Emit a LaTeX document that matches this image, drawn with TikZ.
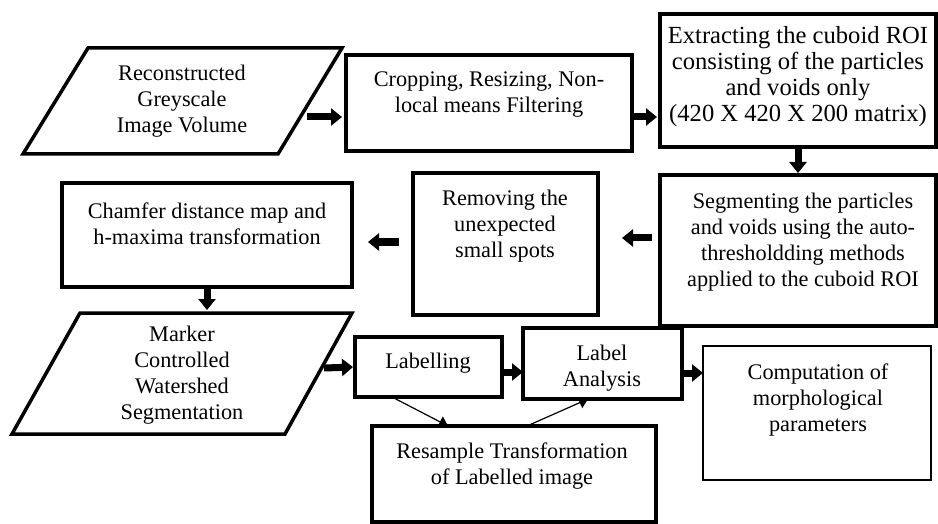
\documentclass[tikz,border=0pt]{standalone}
\usepackage{fontspec}
\setmainfont{Liberation Serif}
\usetikzlibrary{arrows.meta}
\begin{document}
\begin{tikzpicture}[x=1pt,y=-1pt,
  box/.style={draw, line width=3.5pt, inner sep=0pt, outer sep=0pt, anchor=north west},
  txt/.style={align=center, inner sep=0pt, font=\fontsize{22.3pt}{26pt}\selectfont},
  bigtxt/.style={align=center, inner sep=0pt, font=\fontsize{24.6pt}{26pt}\selectfont},
  bigarrow/.style={line width=7pt, -{Triangle[length=11pt,width=17pt]}},
  thinarrow/.style={line width=1.2pt, -{Triangle[length=9pt,width=12pt]}}]
\useasboundingbox (0,0) rectangle (938,524);

% parallelograms
\draw[line width=3.5pt] (88,48) -- (342,48) -- (278,154) -- (23,154) -- cycle;
\draw[line width=3.5pt] (80,313) -- (352,313) -- (285,434) -- (12,434) -- cycle;
\coordinate (recon-out) at (307,117);
\coordinate (marker-top) at (207,313);
\coordinate (marker-out) at (324,368);

% rectangles
\node[box, minimum width=286pt, minimum height=96pt] (crop) at (346,55) {};
\node[box, minimum width=276pt, minimum height=133pt] (extract) at (660,14) {};
\node[box, minimum width=276pt, minimum height=151pt] (segm) at (660,175) {};
\node[box, minimum width=185pt, minimum height=142pt] (remove) at (413,173) {};
\node[box, minimum width=290pt, minimum height=104pt] (chamfer) at (62,183) {};
\node[box, minimum width=147pt, minimum height=60pt] (labelling) at (355,337) {};
\node[box, minimum width=159pt, minimum height=71pt] (analysis) at (523,328) {};
\node[box, minimum width=284pt, minimum height=96pt] (resample) at (372,426) {};
\node[box, line width=2.8pt, minimum width=228pt, minimum height=134pt] (comp) at (703,346) {};

% texts
\node[txt] (t-recon) at (182,101) {Reconstructed\\Greyscale\\Image Volume};
\node[txt] (t-crop) at (489,95) {Cropping, Resizing, Non-\\local means Filtering};
\node[bigtxt] (t-extract) at (798,77) {Extracting the cuboid ROI\\consisting of the particles\\and voids only\\(420 X 420 X 200 matrix)};
\node[txt] (t-segm) at (803,242.5) {Segmenting the particles\\and voids using the auto-\\thresholdding methods\\applied to the cuboid ROI};
\node[txt] (t-remove) at (505,226) {Removing the\\unexpected\\small spots};
\node[txt] (t-chamfer) at (207,223.5) {Chamfer distance map and\\h-maxima transformation};
\node[txt] (t-marker) at (182,375) {Marker\\Controlled\\Watershed\\Segmentation};
\node[txt] (t-labelling) at (428,363) {Labelling};
\node[txt] (t-analysis) at (602,368.5) {Label\\Analysis};
\node[txt] (t-resample) at (512,466.5) {Resample Transformation\\of Labelled image};
\node[txt] (t-comp) at (818,400) {Computation of\\morphological\\parameters};

% thick arrows
\draw[bigarrow, shorten >=4pt] (recon-out) -- ([yshift=-14pt]crop.west);
\draw[bigarrow, shorten >=3pt] ([yshift=-14pt]crop.east) -- ([yshift=-36.5pt]extract.west);
\draw[bigarrow, shorten >=2pt] (extract.south) -- (segm.north);
\draw[bigarrow, shorten <=8pt, shorten >=24pt] ([yshift=12.5pt]segm.west) -- ([yshift=6pt]remove.east);
\draw[bigarrow, shorten <=14pt, shorten >=16pt] ([yshift=2pt]remove.west) -- ([yshift=-7pt]chamfer.east);
\draw[bigarrow, shorten >=3pt] (chamfer.south) -- (marker-top);
\draw[bigarrow, shorten >=2pt] (marker-out) -- (labelling.west);
\draw[bigarrow] ([yshift=-5pt]labelling.east) -- ([yshift=-8.5pt]analysis.west);
\draw[bigarrow] ([yshift=-9.5pt]analysis.east) -- ([yshift=40pt]comp.west);

% thin arrows
\draw[thinarrow] ([xshift=37pt]labelling.south west) -- ([xshift=76pt]resample.north west);
\draw[thinarrow] ([xshift=155pt]resample.north west) -- ([xshift=65pt]analysis.south west);
\end{tikzpicture}
\end{document}
